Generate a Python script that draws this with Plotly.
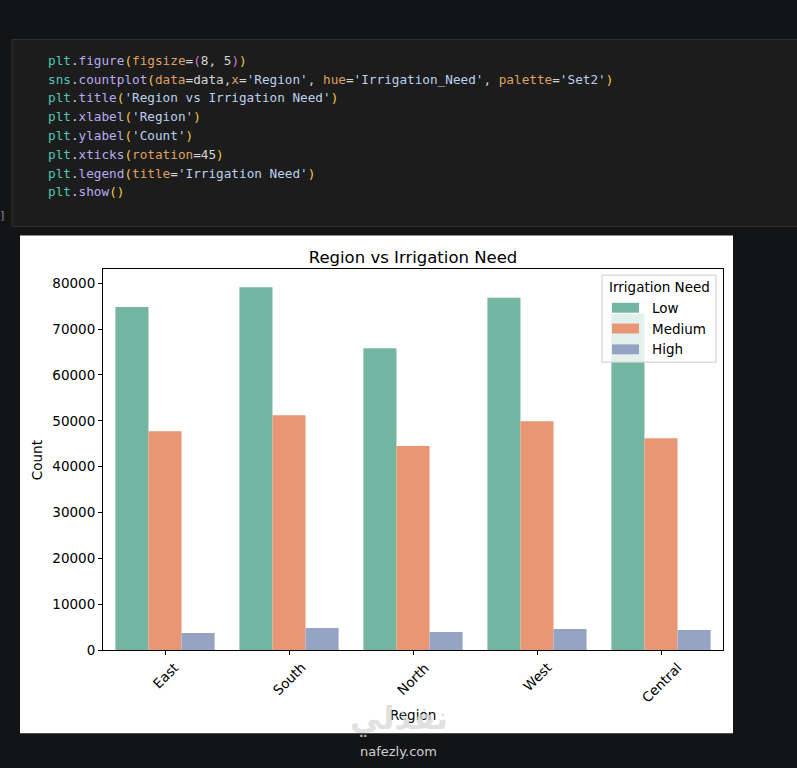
import plotly.graph_objects as go

W, H = 797, 768

regions = ["East", "South", "North", "West", "Central"]
needs = ["Low", "Medium", "High"]
low = [74800, 79100, 65800, 76800, 73300]
medium = [47700, 51200, 44500, 49900, 46200]
high = [3760, 4850, 3980, 4630, 4410]
y_ticks = [0, 10000, 20000, 30000, 40000, 50000, 60000, 70000, 80000]
colors = ["#72b6a1", "#e99675", "#95a3c3"]

# code cell text, token by token (text, colour)
TEAL, FN, GOLD, PINK, KW, WH, STR = "#4ec9b0", "#b9aaf0", "#f2c94c", "#d77ad6", "#dfa25f", "#d4d4d4", "#bcd0ee"
code_lines = [
    [("plt", TEAL), (".", WH), ("figure", FN), ("(", GOLD), ("figsize", KW), ("=", WH), ("(", PINK),
     ("8, 5", WH), (")", PINK), (")", GOLD)],
    [("sns", TEAL), (".", WH), ("countplot", FN), ("(", GOLD), ("data", KW), ("=data,", WH), ("x", KW),
     ("=", WH), ("'Region'", STR), (", ", WH), ("hue", KW), ("=", WH), ("'Irrigation_Need'", STR),
     (", ", WH), ("palette", KW), ("=", WH), ("'Set2'", STR), (")", GOLD)],
    [("plt", TEAL), (".", WH), ("title", FN), ("(", GOLD), ("'Region vs Irrigation Need'", STR), (")", GOLD)],
    [("plt", TEAL), (".", WH), ("xlabel", FN), ("(", GOLD), ("'Region'", STR), (")", GOLD)],
    [("plt", TEAL), (".", WH), ("ylabel", FN), ("(", GOLD), ("'Count'", STR), (")", GOLD)],
    [("plt", TEAL), (".", WH), ("xticks", FN), ("(", GOLD), ("rotation", KW), ("=45", WH), (")", GOLD)],
    [("plt", TEAL), (".", WH), ("legend", FN), ("(", GOLD), ("title", KW), ("=", WH),
     ("'Irrigation Need'", STR), (")", GOLD)],
    [("plt", TEAL), (".", WH), ("show", FN), ("()", GOLD)],
]


def px(x):
    return x / W


def py(y):
    return 1 - y / H


fig = go.Figure()
for name, vals, c in zip(needs, [low, medium, high], colors):
    fig.add_trace(go.Bar(x=regions, y=vals, name=name, marker=dict(color=c, line=dict(width=0))))

shapes = [
    # notebook code cell
    dict(type="rect", xref="paper", yref="paper", x0=px(12), x1=px(805), y0=py(229), y1=py(40),
         fillcolor="#1c1c1c", line=dict(color="#323232", width=1), layer="below"),
    # white figure canvas
    dict(type="rect", xref="paper", yref="paper", x0=px(20), x1=px(733), y0=py(741), y1=py(238),
         fillcolor="white", line=dict(width=0), layer="below"),
    # legend frame
    dict(type="rect", xref="paper", yref="paper", x0=px(602), x1=px(716), y0=py(366), y1=py(278),
         fillcolor="rgba(255,255,255,0.8)", line=dict(color="#cccccc", width=1), layer="above"),
]
for i, c in enumerate(colors):
    cy = 311 + 21 * i
    shapes.append(dict(type="rect", xref="paper", yref="paper", x0=px(612), x1=px(639),
                       y0=py(cy + 5), y1=py(cy - 5), fillcolor=c, line=dict(width=0), layer="above"))

annotations = []
for i, toks in enumerate(code_lines):
    txt = "".join('<span style="color:%s">%s</span>' % (c, t) for t, c in toks)
    annotations.append(dict(text=txt, xref="paper", yref="paper", x=px(46), y=py(61 + 19 * i),
                            xanchor="left", yanchor="middle", showarrow=False,
                            font=dict(family="DejaVu Sans Mono", size=12.7, color=WH)))
annotations.append(dict(text="[4]", xref="paper", yref="paper", x=px(8), y=py(218), xanchor="right",
                        yanchor="middle", showarrow=False,
                        font=dict(family="DejaVu Sans Mono", size=11, color="#8a8a8a")))

# rotated region labels centred under the ticks, like matplotlib
for r in regions:
    annotations.append(dict(text=r, xref="x", yref="paper", x=r, y=py(664), xanchor="center",
                            yanchor="top", textangle=-45, showarrow=False,
                            font=dict(family="DejaVu Sans", size=13.5, color="black")))
annotations.append(dict(text="Region", xref="paper", yref="paper", x=px(413), y=py(723), xanchor="center",
                        yanchor="middle", showarrow=False, font=dict(family="DejaVu Sans", size=13.5, color="black")))
annotations.append(dict(text="Count", xref="paper", yref="paper", x=px(37), y=py(465), xanchor="center",
                        yanchor="middle", textangle=-90, showarrow=False,
                        font=dict(family="DejaVu Sans", size=13.5, color="black")))

# legend contents
annotations.append(dict(text="Irrigation Need", xref="paper", yref="paper", x=px(659), y=py(290),
                        xanchor="center", yanchor="middle", showarrow=False,
                        font=dict(family="DejaVu Sans", size=13.5, color="black")))
for i, name in enumerate(needs):
    annotations.append(dict(text=name, xref="paper", yref="paper", x=px(650), y=py(311 + 21 * i),
                            xanchor="left", yanchor="middle", showarrow=False,
                            font=dict(family="DejaVu Sans", size=13.5, color="black")))

# site watermark
annotations.append(dict(text="<b>نفذلي</b>", xref="paper", yref="paper", x=px(399), y=py(726),
                        xanchor="center", yanchor="middle", showarrow=False,
                        font=dict(family="DejaVu Sans", size=32, color="rgba(215,215,215,0.75)")))
annotations.append(dict(text="nafezly.com", xref="paper", yref="paper", x=px(398), y=py(759),
                        xanchor="center", yanchor="middle", showarrow=False,
                        font=dict(family="DejaVu Sans", size=13, color="#d0d0d0")))

fig.update_layout(
    width=W, height=H, autosize=False,
    margin=dict(l=0, r=0, t=0, b=0),
    paper_bgcolor="#131416", plot_bgcolor="white",
    barmode="group", bargap=0.2, bargroupgap=0,
    showlegend=False,
    title=dict(text="Region vs Irrigation Need", x=px(413), y=py(257), xanchor="center", yanchor="middle",
               font=dict(family="DejaVu Sans", size=16.5, color="black")),
    shapes=shapes, annotations=annotations,
)
fig.update_xaxes(domain=[px(103), px(723)], type="category", categoryorder="array", categoryarray=regions,
                 range=[-0.5, 4.5], showticklabels=False, ticks="outside", ticklen=4, tickwidth=1,
                 tickcolor="black", showline=True, linecolor="black", linewidth=1, mirror=True,
                 showgrid=False, zeroline=False)
fig.update_yaxes(domain=[py(657), py(272)], range=[0, 83050], tickvals=y_ticks,
                 ticktext=[str(v) for v in y_ticks], ticks="outside", ticklen=4, tickwidth=1,
                 tickcolor="black", showline=True, linecolor="black", linewidth=1, mirror=True,
                 showgrid=False, zeroline=False,
                 tickfont=dict(family="DejaVu Sans", size=13.5, color="black"))

# pin the page to exactly the figure: no body margin, no scrolling
page_js = ("document.documentElement.style.overflow='hidden';"
           "document.body.style.margin='0';"
           "document.body.style.height='768px';"
           "document.body.style.overflow='hidden';"
           "document.body.style.background='#131416';")
fig.write_html("out.html", config={"displayModeBar": False}, post_script=page_js)
